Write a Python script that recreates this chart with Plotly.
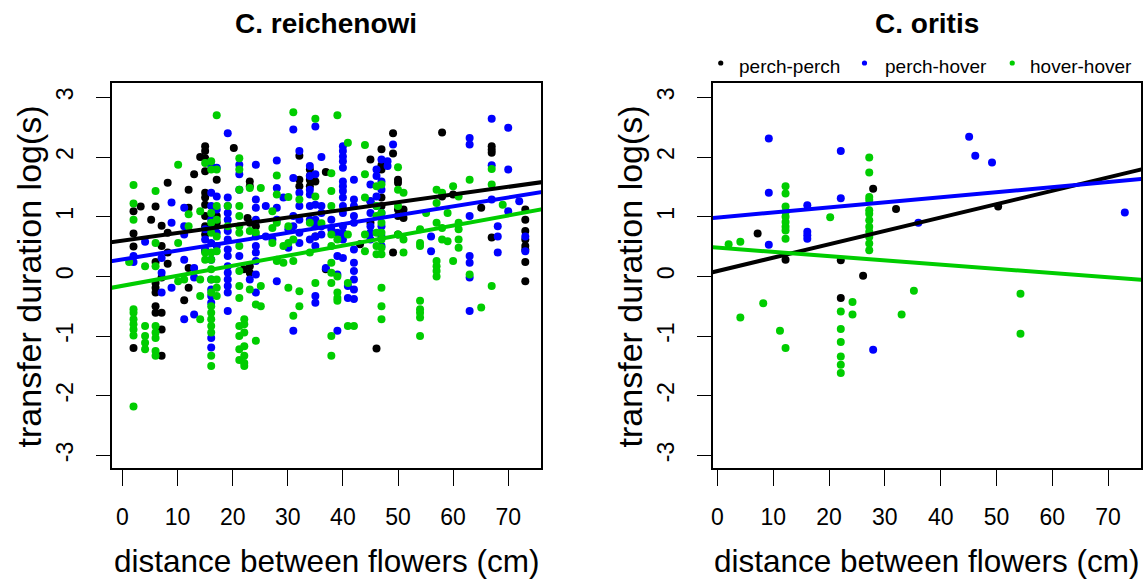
import plotly.graph_objects as go

W, H = 1143, 580
FONT = "Liberation Sans, Arial, Helvetica, sans-serif"

groups = ["perch-perch", "perch-hover", "hover-hover"]
colors = ["#000000", "#0000FF", "#00CD00"]

x_ticks = [0, 10, 20, 30, 40, 50, 60, 70]
x_tick_labels = ["0", "10", "20", "30", "40", "50", "60", "70"]
y_ticks = [-3, -2, -1, 0, 1, 2, 3]
y_tick_labels = ["-3", "-2", "-1", "0", "1", "2", "3"]

panel_titles = ["C. reichenowi", "C. oritis"]
x_title = "distance between flowers (cm)"
y_title = "transfer duration log(s)"

# C. reichenowi: distance (cm) -> log transfer durations, one dict per transfer type
reich_perch_perch = {
    2: [1.09, 0.72, 0.50, -1.20], 3.3: [1.17], 5.2: [0.95],
    6: [1.17, 0.24, -0.11, -0.19, -0.27, -0.50, -0.61],
    7.1: [-1.33, -0.89, -0.61, 0.85, 0.51, -0.02],
    8.2: [1.57, 0.73, 0.40, 0.21], 11.2: [-0.40], 12: [1.45, 1.15, 0.14, -0.19],
    13: [1.71], 14.1: [2.00],
    15: [2.18, 2.10, 1.98, 1.76, 1.40, 1.32, 1.20, 1.01, 0.84, 0.70, 0.42],
    17.1: [1.62, 1.01, 0.90], 20.2: [2.15], 22: [0.12], 22.7: [0.98],
    23.1: [1.59, 1.51, 0.90, 0.17, 0.06], 24.2: [0.84],
    32.1: [2.02, 1.62, 1.51], 34: [1.79, 1.68, 1.62, 1.51], 35: [1.59, 0.67],
    36.9: [1.75, 0.12], 43.1: [0.54], 45: [1.96, 1.26, 0.90], 46.1: [-1.21],
    47: [2.13, 1.86, 1.79, 1.32, 1.18], 49.1: [2.40, 2.06, 0.40],
    50: [1.62, 1.57, 1.12, 1.01, 0.70], 51: [1.12, 0.98], 58: [2.41, 1.34],
    60: [1.37], 65.1: [1.15], 67: [2.18, 2.12, 2.07, 0.65],
    73.1: [1.12, 0.95, 0.76, 0.62, 0.51, 0.45, 0.24, -0.08],
}
reich_perch_hover = {
    2: [0.34, 0.24], 4.1: [0.58], 7.1: [0.06, -0.27, 0.31], 8.9: [1.24, 0.90, -0.19],
    11.2: [1.15, 0.84, 0.70, 0.28, -0.72], 13: [0.14, -0.02, -0.64], 15: [0.79, 0.62, 0.45],
    16.1: [1.85, 1.40, 1.18, 0.95, 0.79, 0.56, 0.28, -0.05, -0.22, -0.33, -0.44, -1.03, -1.19],
    17.1: [1.82, 1.34, 1.12, 0.73, 0.51],
    19.1: [2.40, 1.32, 1.18, 1.06, 0.95, 0.76, 0.62, 0.45, 0.34, 0.17, 0.06, -0.05, -0.16, -0.27, -0.58],
    21.2: [1.87, 1.71, 1.45, 0.34], 23.1: [-0.05],
    24.2: [1.87, 1.29, 1.15, 0.95, 0.67, 0.51, 0.40, 0.26, 0.03, -0.27],
    26: [1.18, 0.67], 27.2: [0.62], 28: [1.94, 1.48, 1.15, 0.95, -0.08], 29.2: [1.32],
    30.1: [0.79, 0.48], 31: [2.46, 1.65, 1.01, 0.84, -0.91],
    32.1: [2.10, 1.40, 1.18, 0.95, 0.73, 0.56],
    34: [1.85, 1.68, 1.45, 1.37, 1.18, 0.95, 0.62],
    35: [2.51, 1.71, 1.20, 0.95, 0.84, 0.67, 0.51, -0.33, -0.44],
    36.1: [2.00, 1.18, 1.06, 0.84, 0.70], 36.9: [0.14], 37.9: [0.95, 0.79],
    39: [0.73, 0.34, 0.03, -0.91],
    40: [2.18, 2.10, 2.01, 1.93, 1.82, 1.59, 1.51, 1.43, 1.32, 1.18, 1.06, 0.84, 0.73, 0.62, 0.31],
    40.9: [-0.16, -0.36],
    42: [1.62, 1.29, 1.18, 1.01, 0.90, 0.45, 0.23, 0.09, -0.05, -0.22, -0.38],
    45: [1.54, 1.26, 1.06, 0.84, 0.73, 0.62], 46.1: [1.79, 1.68, 1.34, 1.18],
    47: [1.96, 1.59, 1.45, 1.06, 0.84, 0.67, 0.51], 48.1: [1.93, 1.85], 49.1: [2.21],
    56: [0.67, 0.42], 63: [2.32, 2.21, 1.01, 0.34, 0.23, -0.02, -0.58],
    67: [2.64, 1.86, 1.29], 68.1: [0.84, 0.67, 0.40], 70: [2.49, 1.79, 1.09],
    72: [1.26], 73.1: [0.67, 0.42],
}
reich_hover_hover = {
    1.2: [0.24], 2: [1.53, 1.22, 0.95, -0.55, -0.61, -0.72, -0.80, -0.89, -0.99, -2.18],
    4.1: [0.17, -0.83, -1.00, -1.11, -1.22],
    6: [1.43, 0.56, 0.17, -0.83, -0.94, -1.03, -1.25, -1.33],
    10.1: [1.87, 0.56, -0.08], 11.2: [-0.05], 12: [1.04, 0.84],
    14.1: [1.09, -0.05, -0.33, -0.72], 15: [1.90, 0.40, 0.28],
    16.1: [1.93, 1.79, 1.06, 0.90, 0.73, 0.40, 0.28, 0.12, -0.05, -0.27, -0.50, -0.61,
           -0.72, -0.83, -0.94, -1.33, -1.50],
    17.1: [2.70, 1.79, 1.18, 0.95, 0.67, 0.42, -0.05, -0.19, -0.33],
    19.1: [1.18, 0.84],
    21.2: [1.98, 1.79, 1.45, 1.18, 1.01, 0.84, 0.73, 0.51, 0.09, -0.16, -0.36, -0.83,
           -1.00, -1.22, -1.40],
    22.1: [-0.72, -0.80, -0.94, -1.17, -1.33, -1.45, -1.50],
    23.1: [1.48, 0.76, -0.22], 24.2: [0.73, -0.47, -1.08], 25.1: [1.48, -0.16, -0.50],
    27.2: [1.09, 0.81, 0.56], 28: [1.69, 1.37, 0.90, 0.28, 0.26], 29.2: [0.51, 0.23],
    30.1: [1.33, 0.84, 0.56, -0.19], 31: [2.75, 0.62, 0.26, -0.66],
    32.1: [1.29, -0.25, -0.50], 34: [0.90, 0.40], 35: [2.64, 1.34, -0.11], 36.1: [0.89],
    37.9: [1.73, 1.43, 1.18, 0.70, 0.51, 0.23, 0.06, -0.11, -1.00, -1.33],
    39: [2.70, 0.62, 0.00, -0.27, -0.36, -0.41], 40.9: [2.24, 0.70, -0.11, -0.83],
    42: [-0.83], 44: [2.20, 1.71, 1.32, 0.70, 0.42],
    46.1: [1.51, 1.18, 1.01, 0.73, 0.51, 0.37],
    47: [1.54, 1.06, 0.90, 0.73, 0.62, 0.48, 0.37, -0.19, -0.50, -0.72],
    50: [1.83, 1.45, 1.18, 0.70], 51: [1.40, 0.62, 0.40],
    54: [0.79, 0.56, 0.51, -0.41, -0.55, -0.61, -0.69, -1.00], 55.1: [1.06],
    57: [1.45, 1.23, 0.90, 0.26, 0.17, 0.09, 0.00], 58: [1.40, 0.81, 0.62], 59: [1.06, 0.59],
    60: [1.51, 0.26], 61: [1.34, 0.90, 0.79, 0.62, 0.48], 63: [1.62, 0.03], 65.1: [-0.52],
    67: [1.80, 1.54, -0.16], 69: [1.20],
}

# C. oritis
oritis_perch_perch = {
    7.2: [0.72], 12.2: [0.28], 22.1: [0.27, -0.36], 26.1: [0.01], 27.9: [1.47],
    32: [1.13], 50.3: [1.17],
}
oritis_perch_hover = {
    9.2: [2.31, 1.40, 0.53], 16.1: [1.19, 0.75, 0.69, 0.63], 22.1: [2.10, 1.31],
    27.9: [-1.23], 36: [0.90], 45.1: [2.34], 46.2: [2.02], 49.2: [1.91], 73: [1.07],
}
oritis_hover_hover = {
    2: [0.54], 4.1: [0.58, -0.69], 8.2: [-0.45], 11.2: [-0.91],
    12.2: [1.51, 1.39, 1.17, 1.08, 1.00, 0.91, 0.83, 0.77, 0.63, -1.20], 20.2: [0.99],
    22.1: [-0.59, -0.88, -1.10, -1.34, -1.48, -1.62], 24.2: [-0.43, -0.64],
    27.2: [1.99, 1.74, 1.33, 1.28, 1.11, 1.05, 0.94, 0.83, 0.75, 0.66, 0.55, 0.44],
    33: [-0.64], 35.2: [-0.24], 54.3: [-0.29, -0.96],
}

# fitted regression lines (intercept, slope) per transfer type
reich_intercepts = [0.599, 0.285, -0.157]
reich_slopes = [0.01288, 0.01481, 0.01682]
oritis_intercepts = [0.090, 0.987, 0.481]
oritis_slopes = [0.0224, 0.00847, -0.00708]


def expand(columns):
    xs, ys = [], []
    for dist, vals in columns.items():
        xs.extend([dist] * len(vals))
        ys.extend(vals)
    return xs, ys


panels = [
    dict(data=[reich_perch_perch, reich_perch_hover, reich_hover_hover],
         a=reich_intercepts, b=reich_slopes, xa="x", ya="y"),
    dict(data=[oritis_perch_perch, oritis_perch_hover, oritis_hover_hover],
         a=oritis_intercepts, b=oritis_slopes, xa="x2", ya="y2"),
]

fig = go.Figure()
line_x = [-10, 90]
for p in panels:
    for cols, col, name in zip(p["data"], colors, groups):
        xs, ys = expand(cols)
        fig.add_trace(go.Scatter(
            x=xs, y=ys, mode="markers", name=name, showlegend=False,
            marker=dict(size=8, color=col, line=dict(width=0)),
            xaxis=p["xa"], yaxis=p["ya"]))
    for a, b, col, name in zip(p["a"], p["b"], colors, groups):
        fig.add_trace(go.Scatter(
            x=line_x, y=[a + b * v for v in line_x], mode="lines", name=name,
            showlegend=False, line=dict(color=col, width=4),
            xaxis=p["xa"], yaxis=p["ya"]))

y_dom = [1 - 468 / H, 1 - 83 / H]
common_x = dict(
    tickmode="array", tickvals=x_ticks, ticktext=x_tick_labels,
    showline=True, mirror=True, linecolor="black", linewidth=2,
    ticks="outside", ticklen=16, tickwidth=1.3, tickcolor="black",
    tickfont=dict(size=23, color="black", family=FONT), showgrid=False,
    zeroline=False, ticklabelstandoff=11)
common_y = dict(
    tickmode="array", tickvals=y_ticks, ticktext=y_tick_labels,
    range=[-3.21, 3.24], showline=True, mirror=True,
    linecolor="black", linewidth=2, ticks="outside", ticklen=14, tickwidth=1.3,
    tickcolor="black", tickfont=dict(size=23, color="black", family=FONT),
    tickangle=-90, showgrid=False, zeroline=False, domain=y_dom,
    ticklabelstandoff=14)

fig.update_layout(
    width=W, height=H, margin=dict(l=0, r=0, t=0, b=0),
    paper_bgcolor="white", plot_bgcolor="white", showlegend=False,
    font=dict(family=FONT, color="black"),
    xaxis=dict(domain=[110 / W, 540 / W], range=[-1.94, 75.96], anchor="y", **common_x),
    yaxis=dict(anchor="x", **common_y),
    xaxis2=dict(domain=[712.3 / W, 1141 / W], range=[-0.79, 75.9], anchor="y2", **common_x),
    yaxis2=dict(anchor="x2", **common_y),
)

annotations = []
# panel titles, axis titles
for cx, ytx, title in [(325, 27, panel_titles[0]), (926.5, 629, panel_titles[1])]:
    annotations.append(dict(text="<b>%s</b>" % title, x=cx / W, y=1 - 24 / H,
                            xref="paper", yref="paper", showarrow=False,
                            xanchor="center", yanchor="middle", font=dict(size=28)))
    annotations.append(dict(text=x_title, x=cx / W, y=1 - 561 / H, xref="paper",
                            yref="paper", showarrow=False, xanchor="center",
                            yanchor="middle", font=dict(size=31.5)))
    annotations.append(dict(text=y_title, x=ytx / W, y=1 - 276.5 / H, xref="paper",
                            yref="paper", showarrow=False, xanchor="center",
                            yanchor="middle", textangle=-90, font=dict(size=34)))

# legend above the C. oritis panel
legend_dot_x = [720, 864, 1012]
legend_text_x = [736, 883, 1028]
shapes = []
for dx, tx, col, name in zip(legend_dot_x, legend_text_x, colors, groups):
    shapes.append(dict(type="circle", xref="paper", yref="paper",
                       xsizemode="pixel", ysizemode="pixel",
                       xanchor=dx / W, yanchor=1 - 63 / H,
                       x0=-2.6, x1=2.6, y0=-2.6, y1=2.6,
                       fillcolor=col, line=dict(width=0)))
    annotations.append(dict(text=name, x=tx / W, y=1 - 67 / H, xref="paper",
                            yref="paper", showarrow=False, xanchor="left",
                            yanchor="middle", font=dict(size=19)))

fig.update_layout(annotations=annotations, shapes=shapes)
fig.write_html("out.html")
